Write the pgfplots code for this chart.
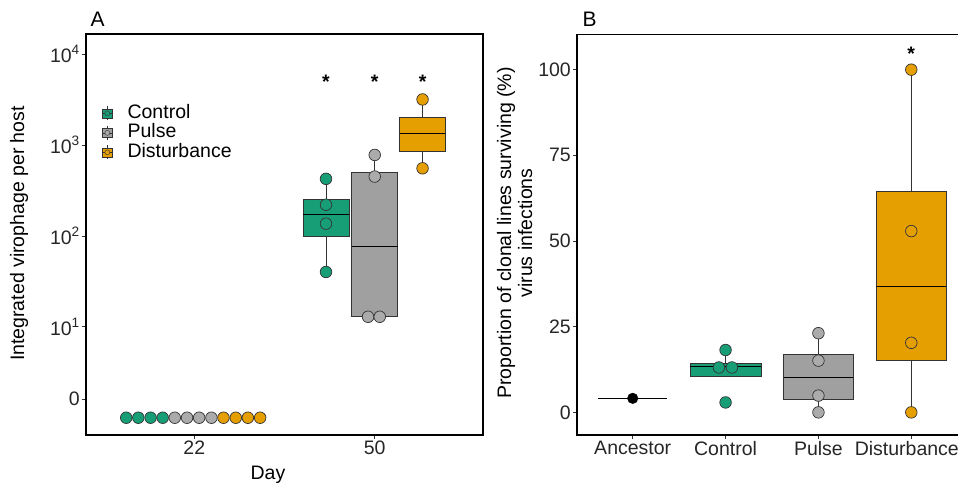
\documentclass[border=0pt]{standalone}
\usepackage{pgfplots}
\pgfplotsset{compat=1.18}
\usepackage{fontspec}
\setmainfont{Liberation Sans}
\definecolor{cgreen}{HTML}{179E76}
\definecolor{cgray}{HTML}{A0A0A0}
\definecolor{cgrayp}{HTML}{ABABAB}
\definecolor{corange}{HTML}{E69F00}
\definecolor{cedge}{HTML}{333333}
\newcommand{\fs}{\fontsize{19.5}{22}\selectfont}
\begin{document}
\begin{tikzpicture}
\useasboundingbox (0pt,0pt) rectangle (958pt,487pt);
\clip (0pt,0pt) rectangle (958pt,487pt);
\pgfplotsset{
  mystyle/.style={
    scale only axis,
    axis line style={black, line width=1.6pt},
    tick style={black!80, line width=0.6pt},
    tick align=outside,
    major tick length=4pt,
    ticklabel style={font=\fs, text=black!85},
    xticklabel style={inner sep=2pt},
    yticklabel style={inner sep=2pt},
    clip=false,
    xtick pos=bottom, ytick pos=left,
  },
  bxs/.style={draw=cedge, line width=0.7pt, fill=#1, forget plot},
  wh/.style={draw=cedge, line width=0.7pt, forget plot},
  md/.style={draw=black, line width=1.3pt, forget plot},
  pts/.style={only marks, mark=*, mark size=5.8pt, forget plot,
    mark options={draw=cedge, line width=0.7pt, fill=#1}},
}
% ---------------- Panel A ----------------
\begin{axis}[mystyle, at={(86pt,52pt)}, anchor=south west,
  width=397pt, height=401pt,
  xmin=0.4, xmax=2.6, ymin=-0.19, ymax=4.22,
  xtick={1,2}, xticklabels={22,50},
  ytick={0.207,1,2,3,4},
  yticklabels={0,10\textsuperscript{1},10\textsuperscript{2},10\textsuperscript{3},10\textsuperscript{4}},
  legend style={at={(rel axis cs:0.04,0.825)}, anchor=north west, draw=none, fill=none,
    font=\fs, inner sep=0pt, row sep=1.5pt, column sep=15pt,
    nodes={inner sep=0pt, text height=14pt, text depth=4pt}},
  legend cell align=left,
]
\addlegendimage{legend image code/.code={
  \draw[cedge, line width=0.5pt] (5pt,-7pt) -- (5pt,7pt);
  \draw[cedge, fill=cgreen, line width=0.5pt] (0pt,-4.5pt) rectangle (10pt,4.5pt);
  \draw[cedge, line width=0.5pt] (0pt,0pt) -- (10pt,0pt);
  \draw[cedge, fill=cgreen, line width=0.4pt] (5pt,0pt) circle (2.5pt);}}
\addlegendentry{Control}
\addlegendimage{legend image code/.code={
  \draw[cedge, line width=0.5pt] (5pt,-7pt) -- (5pt,7pt);
  \draw[cedge, fill=cgray, line width=0.5pt] (0pt,-4.5pt) rectangle (10pt,4.5pt);
  \draw[cedge, line width=0.5pt] (0pt,0pt) -- (10pt,0pt);
  \draw[cedge, fill=cgrayp, line width=0.4pt] (5pt,0pt) circle (2.5pt);}}
\addlegendentry{Pulse}
\addlegendimage{legend image code/.code={
  \draw[cedge, line width=0.5pt] (5pt,-7pt) -- (5pt,7pt);
  \draw[cedge, fill=corange, line width=0.5pt] (0pt,-4.5pt) rectangle (10pt,4.5pt);
  \draw[cedge, line width=0.5pt] (0pt,0pt) -- (10pt,0pt);
  \draw[cedge, fill=corange, line width=0.4pt] (5pt,0pt) circle (2.5pt);}}
\addlegendentry{Disturbance}
% day 22 (all zero)
\addplot[pts=cgreen] coordinates {(0.623,0) (0.690,0) (0.758,0) (0.825,0)};
\addplot[pts=cgrayp] coordinates {(0.892,0) (0.960,0) (1.027,0) (1.095,0)};
\addplot[pts=corange] coordinates {(1.162,0) (1.230,0) (1.297,0) (1.365,0)};
% day 50 control
\addplot[wh] coordinates {(1.73,1.603) (1.73,2.627)};
\addplot[bxs=cgreen] coordinates {(1.603,1.995) (1.857,1.995) (1.857,2.40) (1.603,2.40)} -- cycle;
\addplot[md] coordinates {(1.603,2.236) (1.857,2.236)};
% day 50 pulse
\addplot[wh] coordinates {(2.0,2.70) (2.0,2.89)};
\addplot[bxs=cgray] coordinates {(1.873,1.11) (2.127,1.11) (2.127,2.70) (1.873,2.70)} -- cycle;
\addplot[md] coordinates {(1.873,1.885) (2.127,1.885)};
% day 50 disturbance
\addplot[wh] coordinates {(2.265,2.743) (2.265,3.50)};
\addplot[bxs=corange] coordinates {(2.138,2.927) (2.392,2.927) (2.392,3.30) (2.138,3.30)} -- cycle;
\addplot[md] coordinates {(2.138,3.127) (2.392,3.127)};
\addplot[pts=cgreen] coordinates {(1.73,2.627) (1.73,2.342) (1.73,2.134) (1.73,1.603)};
\addplot[pts=cgrayp] coordinates {(2.0,2.89) (2.0,2.652) (1.963,1.11) (2.028,1.11)};
\addplot[pts=corange] coordinates {(2.265,3.50) (2.265,2.743)};
\node[font=\fs\bfseries, yshift=-4pt] at (axis cs:1.73,3.74) {*};
\node[font=\fs\bfseries, yshift=-4pt] at (axis cs:2.0,3.74) {*};
\node[font=\fs\bfseries, yshift=-4pt] at (axis cs:2.265,3.74) {*};
\end{axis}
% ---------------- Panel B ----------------
\begin{axis}[mystyle, at={(577pt,52pt)}, anchor=south west,
  width=390pt, height=400.3pt,
  xmin=0.4, xmax=4.6, ymin=-6.6, ymax=110.2,
  xtick={1,2,3,4}, xticklabels={Ancestor,Control,Pulse,\hspace*{-9pt}Disturbance},
  ytick={0,25,50,75,100}, yticklabels={0,25,50,75,100},
]
\addplot[draw=black, line width=1.3pt, forget plot] coordinates {(0.63,4.1) (1.37,4.1)};
% control
\addplot[wh] coordinates {(2,14.3) (2,18.2)};
\addplot[bxs=cgreen] coordinates {(1.6175,10.4) (2.3825,10.4) (2.3825,14.3) (1.6175,14.3)} -- cycle;
\addplot[md] coordinates {(1.6175,13.3) (2.3825,13.3)};
% pulse
\addplot[wh] coordinates {(3,0) (3,23.1)};
\addplot[bxs=cgray] coordinates {(2.625,3.8) (3.375,3.8) (3.375,16.9) (2.625,16.9)} -- cycle;
\addplot[md] coordinates {(2.625,10.1) (3.375,10.1)};
% disturbance
\addplot[wh] coordinates {(4,0) (4,100)};
\addplot[bxs=corange] coordinates {(3.625,15.1) (4.375,15.1) (4.375,64.6) (3.625,64.6)} -- cycle;
\addplot[md] coordinates {(3.625,36.7) (4.375,36.7)};
\addplot[only marks, mark=*, mark size=5.3pt, forget plot, mark options={draw=black, fill=black}] coordinates {(1,4.1)};
\addplot[pts=cgreen] coordinates {(2,18.2) (1.928,13.1) (2.068,13.1) (2,2.9)};
\addplot[pts=cgrayp] coordinates {(3,23.1) (3,15.1) (3,4.9) (3,0)};
\addplot[pts=corange] coordinates {(4,100) (4,52.9) (4,20.3) (4,0)};
\node[font=\fs\bfseries, yshift=-4pt] at (axis cs:4,105.8) {*};
\end{axis}
% ---------------- titles ----------------
\node[anchor=base west, font=\fontsize{21}{21}\selectfont] at (87pt,460pt) {A};
\node[anchor=base west, font=\fontsize{21}{21}\selectfont] at (579pt,460pt) {B};
\node[anchor=base, font=\fs] at (268pt,7pt) {Day};
\node[anchor=base, rotate=90, font=\fs] at (24pt,253.5pt) {Integrated virophage per host};
\node[anchor=base, rotate=90, font=\fs] at (511pt,254pt) {Proportion of clonal lines surviving (\%)};
\node[anchor=base, rotate=90, font=\fs] at (532pt,254pt) {virus infections};
\end{tikzpicture}
\end{document}
